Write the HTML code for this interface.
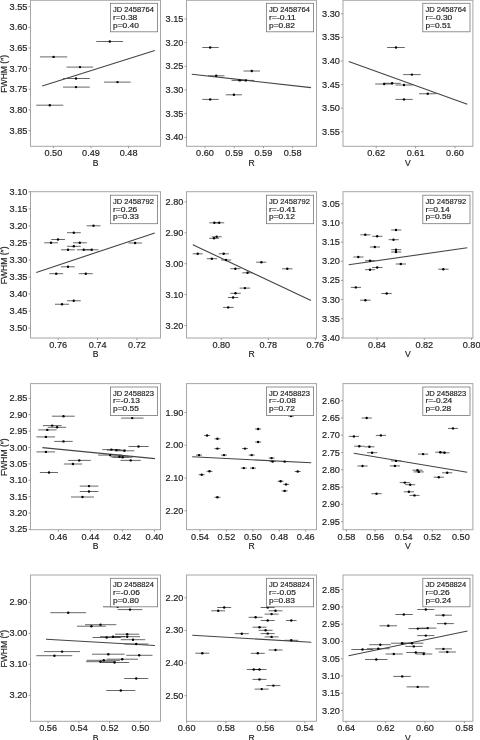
<!DOCTYPE html><html><head><meta charset="utf-8"><style>html,body{margin:0;padding:0;background:#fff;}svg{display:block;}</style></head><body>
<svg style="will-change:transform" width="480" height="740" viewBox="0 0 480 740" font-family="Liberation Sans, sans-serif">
<rect width="480" height="740" fill="#fff"/>
<g clip-path="url(#c00)"><line x1="96.25" y1="41.50" x2="123.10" y2="41.50" stroke="#000" stroke-width="0.6"/><line x1="39.90" y1="56.90" x2="67.20" y2="56.90" stroke="#000" stroke-width="0.6"/><line x1="66.50" y1="67.10" x2="93.10" y2="67.10" stroke="#000" stroke-width="0.6"/><line x1="63.00" y1="78.50" x2="89.80" y2="78.50" stroke="#000" stroke-width="0.6"/><line x1="63.00" y1="87.10" x2="89.80" y2="87.10" stroke="#000" stroke-width="0.6"/><line x1="104.00" y1="82.10" x2="130.70" y2="82.10" stroke="#000" stroke-width="0.6"/><line x1="36.25" y1="105.20" x2="63.30" y2="105.20" stroke="#000" stroke-width="0.6"/><line x1="42.2" y1="86.1" x2="154.8" y2="50.5" stroke="#444" stroke-width="1.1"/><circle cx="109.80" cy="41.50" r="1.2" fill="#000"/><circle cx="53.60" cy="56.90" r="1.2" fill="#000"/><circle cx="80.00" cy="67.10" r="1.2" fill="#000"/><circle cx="76.00" cy="78.50" r="1.2" fill="#000"/><circle cx="76.00" cy="87.10" r="1.2" fill="#000"/><circle cx="117.50" cy="82.10" r="1.2" fill="#000"/><circle cx="49.80" cy="105.20" r="1.2" fill="#000"/></g>
<clipPath id="c00"><rect x="30.5" y="0.3" width="130.0" height="146.0"/></clipPath>
<rect x="110.40" y="3.30" width="47.2" height="28.5" fill="#fff" stroke="#777" stroke-width="0.8"/>
<text x="113.00" y="11.90" font-size="7.8" textLength="40.86" lengthAdjust="spacingAndGlyphs" fill="#222" stroke="#222" stroke-width="0.18">JD 2458764</text>
<text x="113.00" y="19.70" font-size="7.8" textLength="24.33" lengthAdjust="spacingAndGlyphs" fill="#222" stroke="#222" stroke-width="0.18">r=0.38</text>
<text x="113.00" y="27.50" font-size="7.8" textLength="25.89" lengthAdjust="spacingAndGlyphs" fill="#222" stroke="#222" stroke-width="0.18">p=0.40</text>
<rect x="30.5" y="0.3" width="130.00" height="146.00" fill="none" stroke="#a6a6a6" stroke-width="1"/>
<line x1="28.5" y1="6.70" x2="30.5" y2="6.70" stroke="#888" stroke-width="0.8"/>
<text x="27.40" y="9.75" font-size="9.1" text-anchor="end" textLength="17.81" lengthAdjust="spacingAndGlyphs" fill="#222" stroke="#222" stroke-width="0.18">3.55</text>
<line x1="28.5" y1="27.35" x2="30.5" y2="27.35" stroke="#888" stroke-width="0.8"/>
<text x="27.40" y="30.40" font-size="9.1" text-anchor="end" textLength="17.81" lengthAdjust="spacingAndGlyphs" fill="#222" stroke="#222" stroke-width="0.18">3.60</text>
<line x1="28.5" y1="48.00" x2="30.5" y2="48.00" stroke="#888" stroke-width="0.8"/>
<text x="27.40" y="51.05" font-size="9.1" text-anchor="end" textLength="17.81" lengthAdjust="spacingAndGlyphs" fill="#222" stroke="#222" stroke-width="0.18">3.65</text>
<line x1="28.5" y1="68.65" x2="30.5" y2="68.65" stroke="#888" stroke-width="0.8"/>
<text x="27.40" y="71.70" font-size="9.1" text-anchor="end" textLength="17.81" lengthAdjust="spacingAndGlyphs" fill="#222" stroke="#222" stroke-width="0.18">3.70</text>
<line x1="28.5" y1="89.30" x2="30.5" y2="89.30" stroke="#888" stroke-width="0.8"/>
<text x="27.40" y="92.35" font-size="9.1" text-anchor="end" textLength="17.81" lengthAdjust="spacingAndGlyphs" fill="#222" stroke="#222" stroke-width="0.18">3.75</text>
<line x1="28.5" y1="109.95" x2="30.5" y2="109.95" stroke="#888" stroke-width="0.8"/>
<text x="27.40" y="113.00" font-size="9.1" text-anchor="end" textLength="17.81" lengthAdjust="spacingAndGlyphs" fill="#222" stroke="#222" stroke-width="0.18">3.80</text>
<line x1="28.5" y1="130.60" x2="30.5" y2="130.60" stroke="#888" stroke-width="0.8"/>
<text x="27.40" y="133.65" font-size="9.1" text-anchor="end" textLength="17.81" lengthAdjust="spacingAndGlyphs" fill="#222" stroke="#222" stroke-width="0.18">3.85</text>
<line x1="53.40" y1="146.3" x2="53.40" y2="148.3" stroke="#888" stroke-width="0.8"/>
<text x="53.40" y="156.30" font-size="9.1" text-anchor="middle" textLength="17.81" lengthAdjust="spacingAndGlyphs" fill="#222" stroke="#222" stroke-width="0.18">0.50</text>
<line x1="91.00" y1="146.3" x2="91.00" y2="148.3" stroke="#888" stroke-width="0.8"/>
<text x="91.00" y="156.30" font-size="9.1" text-anchor="middle" textLength="17.81" lengthAdjust="spacingAndGlyphs" fill="#222" stroke="#222" stroke-width="0.18">0.49</text>
<line x1="128.60" y1="146.3" x2="128.60" y2="148.3" stroke="#888" stroke-width="0.8"/>
<text x="128.60" y="156.30" font-size="9.1" text-anchor="middle" textLength="17.81" lengthAdjust="spacingAndGlyphs" fill="#222" stroke="#222" stroke-width="0.18">0.48</text>
<text x="95.50" y="165.50" font-size="8.6" text-anchor="middle" fill="#222" stroke="#222" stroke-width="0.18">B</text>
<text transform="translate(7.2,73.80) rotate(-90)" x="0" y="0" font-size="8.6" text-anchor="middle" textLength="37.67" lengthAdjust="spacingAndGlyphs" fill="#222" stroke="#222" stroke-width="0.18">FWHM (″)</text>
<g clip-path="url(#c01)"><line x1="202.25" y1="47.50" x2="218.70" y2="47.50" stroke="#000" stroke-width="0.6"/><line x1="207.90" y1="75.80" x2="224.50" y2="75.80" stroke="#000" stroke-width="0.6"/><line x1="231.60" y1="80.40" x2="247.90" y2="80.40" stroke="#000" stroke-width="0.6"/><line x1="237.80" y1="80.40" x2="253.90" y2="80.40" stroke="#000" stroke-width="0.6"/><line x1="243.50" y1="71.00" x2="260.00" y2="71.00" stroke="#000" stroke-width="0.6"/><line x1="225.70" y1="94.80" x2="242.10" y2="94.80" stroke="#000" stroke-width="0.6"/><line x1="202.25" y1="99.40" x2="218.70" y2="99.40" stroke="#000" stroke-width="0.6"/><line x1="191.8" y1="74.2" x2="311" y2="87.6" stroke="#444" stroke-width="1.1"/><circle cx="210.20" cy="47.50" r="1.2" fill="#000"/><circle cx="216.20" cy="75.80" r="1.2" fill="#000"/><circle cx="239.75" cy="80.40" r="1.2" fill="#000"/><circle cx="245.80" cy="80.40" r="1.2" fill="#000"/><circle cx="251.80" cy="71.00" r="1.2" fill="#000"/><circle cx="233.90" cy="94.80" r="1.2" fill="#000"/><circle cx="210.20" cy="99.40" r="1.2" fill="#000"/></g>
<clipPath id="c01"><rect x="186.5" y="0.3" width="130.0" height="146.0"/></clipPath>
<rect x="266.40" y="3.30" width="47.2" height="28.5" fill="#fff" stroke="#777" stroke-width="0.8"/>
<text x="269.00" y="11.90" font-size="7.8" textLength="40.86" lengthAdjust="spacingAndGlyphs" fill="#222" stroke="#222" stroke-width="0.18">JD 2458764</text>
<text x="269.00" y="19.70" font-size="7.8" textLength="26.86" lengthAdjust="spacingAndGlyphs" fill="#222" stroke="#222" stroke-width="0.18">r=-0.11</text>
<text x="269.00" y="27.50" font-size="7.8" textLength="25.89" lengthAdjust="spacingAndGlyphs" fill="#222" stroke="#222" stroke-width="0.18">p=0.82</text>
<rect x="186.5" y="0.3" width="130.00" height="146.00" fill="none" stroke="#a6a6a6" stroke-width="1"/>
<line x1="184.5" y1="18.90" x2="186.5" y2="18.90" stroke="#888" stroke-width="0.8"/>
<text x="183.40" y="21.95" font-size="9.1" text-anchor="end" textLength="17.81" lengthAdjust="spacingAndGlyphs" fill="#222" stroke="#222" stroke-width="0.18">3.15</text>
<line x1="184.5" y1="42.60" x2="186.5" y2="42.60" stroke="#888" stroke-width="0.8"/>
<text x="183.40" y="45.65" font-size="9.1" text-anchor="end" textLength="17.81" lengthAdjust="spacingAndGlyphs" fill="#222" stroke="#222" stroke-width="0.18">3.20</text>
<line x1="184.5" y1="66.30" x2="186.5" y2="66.30" stroke="#888" stroke-width="0.8"/>
<text x="183.40" y="69.35" font-size="9.1" text-anchor="end" textLength="17.81" lengthAdjust="spacingAndGlyphs" fill="#222" stroke="#222" stroke-width="0.18">3.25</text>
<line x1="184.5" y1="90.00" x2="186.5" y2="90.00" stroke="#888" stroke-width="0.8"/>
<text x="183.40" y="93.05" font-size="9.1" text-anchor="end" textLength="17.81" lengthAdjust="spacingAndGlyphs" fill="#222" stroke="#222" stroke-width="0.18">3.30</text>
<line x1="184.5" y1="113.70" x2="186.5" y2="113.70" stroke="#888" stroke-width="0.8"/>
<text x="183.40" y="116.75" font-size="9.1" text-anchor="end" textLength="17.81" lengthAdjust="spacingAndGlyphs" fill="#222" stroke="#222" stroke-width="0.18">3.35</text>
<line x1="184.5" y1="137.40" x2="186.5" y2="137.40" stroke="#888" stroke-width="0.8"/>
<text x="183.40" y="140.45" font-size="9.1" text-anchor="end" textLength="17.81" lengthAdjust="spacingAndGlyphs" fill="#222" stroke="#222" stroke-width="0.18">3.40</text>
<line x1="205.00" y1="146.3" x2="205.00" y2="148.3" stroke="#888" stroke-width="0.8"/>
<text x="205.00" y="156.30" font-size="9.1" text-anchor="middle" textLength="17.81" lengthAdjust="spacingAndGlyphs" fill="#222" stroke="#222" stroke-width="0.18">0.60</text>
<line x1="234.20" y1="146.3" x2="234.20" y2="148.3" stroke="#888" stroke-width="0.8"/>
<text x="234.20" y="156.30" font-size="9.1" text-anchor="middle" textLength="17.81" lengthAdjust="spacingAndGlyphs" fill="#222" stroke="#222" stroke-width="0.18">0.59</text>
<line x1="263.40" y1="146.3" x2="263.40" y2="148.3" stroke="#888" stroke-width="0.8"/>
<text x="263.40" y="156.30" font-size="9.1" text-anchor="middle" textLength="17.81" lengthAdjust="spacingAndGlyphs" fill="#222" stroke="#222" stroke-width="0.18">0.59</text>
<line x1="292.60" y1="146.3" x2="292.60" y2="148.3" stroke="#888" stroke-width="0.8"/>
<text x="292.60" y="156.30" font-size="9.1" text-anchor="middle" textLength="17.81" lengthAdjust="spacingAndGlyphs" fill="#222" stroke="#222" stroke-width="0.18">0.58</text>
<text x="251.50" y="165.50" font-size="8.6" text-anchor="middle" fill="#222" stroke="#222" stroke-width="0.18">R</text>
<g clip-path="url(#c02)"><line x1="387.10" y1="47.50" x2="404.80" y2="47.50" stroke="#000" stroke-width="0.6"/><line x1="403.10" y1="74.60" x2="420.60" y2="74.60" stroke="#000" stroke-width="0.6"/><line x1="375.20" y1="84.00" x2="392.90" y2="84.00" stroke="#000" stroke-width="0.6"/><line x1="383.30" y1="83.30" x2="400.80" y2="83.30" stroke="#000" stroke-width="0.6"/><line x1="395.40" y1="85.00" x2="412.70" y2="85.00" stroke="#000" stroke-width="0.6"/><line x1="419.00" y1="93.75" x2="436.25" y2="93.75" stroke="#000" stroke-width="0.6"/><line x1="395.40" y1="99.40" x2="412.70" y2="99.40" stroke="#000" stroke-width="0.6"/><line x1="348.7" y1="61.5" x2="467.3" y2="104.3" stroke="#444" stroke-width="1.1"/><circle cx="396.00" cy="47.50" r="1.2" fill="#000"/><circle cx="411.90" cy="74.60" r="1.2" fill="#000"/><circle cx="384.20" cy="84.00" r="1.2" fill="#000"/><circle cx="392.10" cy="83.30" r="1.2" fill="#000"/><circle cx="404.00" cy="85.00" r="1.2" fill="#000"/><circle cx="427.70" cy="93.75" r="1.2" fill="#000"/><circle cx="404.00" cy="99.40" r="1.2" fill="#000"/></g>
<clipPath id="c02"><rect x="343.0" y="0.3" width="129.89999999999998" height="146.0"/></clipPath>
<rect x="422.80" y="3.30" width="47.2" height="28.5" fill="#fff" stroke="#777" stroke-width="0.8"/>
<text x="425.40" y="11.90" font-size="7.8" textLength="40.86" lengthAdjust="spacingAndGlyphs" fill="#222" stroke="#222" stroke-width="0.18">JD 2458764</text>
<text x="425.40" y="19.70" font-size="7.8" textLength="26.86" lengthAdjust="spacingAndGlyphs" fill="#222" stroke="#222" stroke-width="0.18">r=-0.30</text>
<text x="425.40" y="27.50" font-size="7.8" textLength="25.89" lengthAdjust="spacingAndGlyphs" fill="#222" stroke="#222" stroke-width="0.18">p=0.51</text>
<rect x="343.0" y="0.3" width="129.90" height="146.00" fill="none" stroke="#a6a6a6" stroke-width="1"/>
<line x1="341.0" y1="13.80" x2="343.0" y2="13.80" stroke="#888" stroke-width="0.8"/>
<text x="339.90" y="16.85" font-size="9.1" text-anchor="end" textLength="17.81" lengthAdjust="spacingAndGlyphs" fill="#222" stroke="#222" stroke-width="0.18">3.30</text>
<line x1="341.0" y1="37.40" x2="343.0" y2="37.40" stroke="#888" stroke-width="0.8"/>
<text x="339.90" y="40.45" font-size="9.1" text-anchor="end" textLength="17.81" lengthAdjust="spacingAndGlyphs" fill="#222" stroke="#222" stroke-width="0.18">3.35</text>
<line x1="341.0" y1="61.00" x2="343.0" y2="61.00" stroke="#888" stroke-width="0.8"/>
<text x="339.90" y="64.05" font-size="9.1" text-anchor="end" textLength="17.81" lengthAdjust="spacingAndGlyphs" fill="#222" stroke="#222" stroke-width="0.18">3.40</text>
<line x1="341.0" y1="84.60" x2="343.0" y2="84.60" stroke="#888" stroke-width="0.8"/>
<text x="339.90" y="87.65" font-size="9.1" text-anchor="end" textLength="17.81" lengthAdjust="spacingAndGlyphs" fill="#222" stroke="#222" stroke-width="0.18">3.45</text>
<line x1="341.0" y1="108.20" x2="343.0" y2="108.20" stroke="#888" stroke-width="0.8"/>
<text x="339.90" y="111.25" font-size="9.1" text-anchor="end" textLength="17.81" lengthAdjust="spacingAndGlyphs" fill="#222" stroke="#222" stroke-width="0.18">3.50</text>
<line x1="341.0" y1="131.80" x2="343.0" y2="131.80" stroke="#888" stroke-width="0.8"/>
<text x="339.90" y="134.85" font-size="9.1" text-anchor="end" textLength="17.81" lengthAdjust="spacingAndGlyphs" fill="#222" stroke="#222" stroke-width="0.18">3.55</text>
<line x1="376.20" y1="146.3" x2="376.20" y2="148.3" stroke="#888" stroke-width="0.8"/>
<text x="376.20" y="156.30" font-size="9.1" text-anchor="middle" textLength="17.81" lengthAdjust="spacingAndGlyphs" fill="#222" stroke="#222" stroke-width="0.18">0.62</text>
<line x1="415.60" y1="146.3" x2="415.60" y2="148.3" stroke="#888" stroke-width="0.8"/>
<text x="415.60" y="156.30" font-size="9.1" text-anchor="middle" textLength="17.81" lengthAdjust="spacingAndGlyphs" fill="#222" stroke="#222" stroke-width="0.18">0.61</text>
<line x1="455.00" y1="146.3" x2="455.00" y2="148.3" stroke="#888" stroke-width="0.8"/>
<text x="455.00" y="156.30" font-size="9.1" text-anchor="middle" textLength="17.81" lengthAdjust="spacingAndGlyphs" fill="#222" stroke="#222" stroke-width="0.18">0.60</text>
<text x="407.95" y="165.50" font-size="8.6" text-anchor="middle" fill="#222" stroke="#222" stroke-width="0.18">V</text>
<g clip-path="url(#c10)"><line x1="86.70" y1="225.80" x2="100.50" y2="225.80" stroke="#000" stroke-width="0.6"/><line x1="67.00" y1="232.70" x2="80.80" y2="232.70" stroke="#000" stroke-width="0.6"/><line x1="51.20" y1="239.50" x2="65.00" y2="239.50" stroke="#000" stroke-width="0.6"/><line x1="44.20" y1="242.80" x2="58.00" y2="242.80" stroke="#000" stroke-width="0.6"/><line x1="73.00" y1="242.80" x2="86.80" y2="242.80" stroke="#000" stroke-width="0.6"/><line x1="67.00" y1="246.30" x2="80.80" y2="246.30" stroke="#000" stroke-width="0.6"/><line x1="61.00" y1="249.80" x2="74.80" y2="249.80" stroke="#000" stroke-width="0.6"/><line x1="76.80" y1="249.80" x2="90.50" y2="249.80" stroke="#000" stroke-width="0.6"/><line x1="84.80" y1="249.80" x2="98.50" y2="249.80" stroke="#000" stroke-width="0.6"/><line x1="61.00" y1="266.80" x2="74.80" y2="266.80" stroke="#000" stroke-width="0.6"/><line x1="49.20" y1="273.70" x2="63.20" y2="273.70" stroke="#000" stroke-width="0.6"/><line x1="78.80" y1="273.70" x2="92.80" y2="273.70" stroke="#000" stroke-width="0.6"/><line x1="67.00" y1="300.75" x2="80.75" y2="300.75" stroke="#000" stroke-width="0.6"/><line x1="55.00" y1="304.25" x2="69.00" y2="304.25" stroke="#000" stroke-width="0.6"/><line x1="128.50" y1="243.00" x2="141.90" y2="243.00" stroke="#000" stroke-width="0.6"/><line x1="36.3" y1="272.4" x2="154.75" y2="233" stroke="#444" stroke-width="1.1"/><circle cx="93.50" cy="225.80" r="1.2" fill="#000"/><circle cx="73.80" cy="232.70" r="1.2" fill="#000"/><circle cx="58.00" cy="239.50" r="1.2" fill="#000"/><circle cx="51.00" cy="242.80" r="1.2" fill="#000"/><circle cx="79.80" cy="242.80" r="1.2" fill="#000"/><circle cx="73.80" cy="246.30" r="1.2" fill="#000"/><circle cx="68.00" cy="249.80" r="1.2" fill="#000"/><circle cx="83.70" cy="249.80" r="1.2" fill="#000"/><circle cx="91.70" cy="249.80" r="1.2" fill="#000"/><circle cx="68.00" cy="266.80" r="1.2" fill="#000"/><circle cx="56.20" cy="273.70" r="1.2" fill="#000"/><circle cx="85.80" cy="273.70" r="1.2" fill="#000"/><circle cx="73.75" cy="300.75" r="1.2" fill="#000"/><circle cx="62.00" cy="304.25" r="1.2" fill="#000"/><circle cx="135.10" cy="243.00" r="1.2" fill="#000"/></g>
<clipPath id="c10"><rect x="30.5" y="191.7" width="130.0" height="146.3"/></clipPath>
<rect x="110.40" y="195.20" width="47.2" height="28.5" fill="#fff" stroke="#777" stroke-width="0.8"/>
<text x="113.00" y="203.80" font-size="7.8" textLength="40.86" lengthAdjust="spacingAndGlyphs" fill="#222" stroke="#222" stroke-width="0.18">JD 2458792</text>
<text x="113.00" y="211.60" font-size="7.8" textLength="24.33" lengthAdjust="spacingAndGlyphs" fill="#222" stroke="#222" stroke-width="0.18">r=0.26</text>
<text x="113.00" y="219.40" font-size="7.8" textLength="25.89" lengthAdjust="spacingAndGlyphs" fill="#222" stroke="#222" stroke-width="0.18">p=0.33</text>
<rect x="30.5" y="191.7" width="130.00" height="146.30" fill="none" stroke="#a6a6a6" stroke-width="1"/>
<line x1="28.5" y1="191.80" x2="30.5" y2="191.80" stroke="#888" stroke-width="0.8"/>
<text x="27.40" y="194.85" font-size="9.1" text-anchor="end" textLength="17.81" lengthAdjust="spacingAndGlyphs" fill="#222" stroke="#222" stroke-width="0.18">3.10</text>
<line x1="28.5" y1="208.84" x2="30.5" y2="208.84" stroke="#888" stroke-width="0.8"/>
<text x="27.40" y="211.89" font-size="9.1" text-anchor="end" textLength="17.81" lengthAdjust="spacingAndGlyphs" fill="#222" stroke="#222" stroke-width="0.18">3.15</text>
<line x1="28.5" y1="225.88" x2="30.5" y2="225.88" stroke="#888" stroke-width="0.8"/>
<text x="27.40" y="228.93" font-size="9.1" text-anchor="end" textLength="17.81" lengthAdjust="spacingAndGlyphs" fill="#222" stroke="#222" stroke-width="0.18">3.20</text>
<line x1="28.5" y1="242.92" x2="30.5" y2="242.92" stroke="#888" stroke-width="0.8"/>
<text x="27.40" y="245.97" font-size="9.1" text-anchor="end" textLength="17.81" lengthAdjust="spacingAndGlyphs" fill="#222" stroke="#222" stroke-width="0.18">3.25</text>
<line x1="28.5" y1="259.96" x2="30.5" y2="259.96" stroke="#888" stroke-width="0.8"/>
<text x="27.40" y="263.01" font-size="9.1" text-anchor="end" textLength="17.81" lengthAdjust="spacingAndGlyphs" fill="#222" stroke="#222" stroke-width="0.18">3.30</text>
<line x1="28.5" y1="277.00" x2="30.5" y2="277.00" stroke="#888" stroke-width="0.8"/>
<text x="27.40" y="280.05" font-size="9.1" text-anchor="end" textLength="17.81" lengthAdjust="spacingAndGlyphs" fill="#222" stroke="#222" stroke-width="0.18">3.35</text>
<line x1="28.5" y1="294.04" x2="30.5" y2="294.04" stroke="#888" stroke-width="0.8"/>
<text x="27.40" y="297.09" font-size="9.1" text-anchor="end" textLength="17.81" lengthAdjust="spacingAndGlyphs" fill="#222" stroke="#222" stroke-width="0.18">3.40</text>
<line x1="28.5" y1="311.08" x2="30.5" y2="311.08" stroke="#888" stroke-width="0.8"/>
<text x="27.40" y="314.13" font-size="9.1" text-anchor="end" textLength="17.81" lengthAdjust="spacingAndGlyphs" fill="#222" stroke="#222" stroke-width="0.18">3.45</text>
<line x1="28.5" y1="328.12" x2="30.5" y2="328.12" stroke="#888" stroke-width="0.8"/>
<text x="27.40" y="331.17" font-size="9.1" text-anchor="end" textLength="17.81" lengthAdjust="spacingAndGlyphs" fill="#222" stroke="#222" stroke-width="0.18">3.50</text>
<line x1="58.20" y1="338.0" x2="58.20" y2="340.0" stroke="#888" stroke-width="0.8"/>
<text x="58.20" y="348.00" font-size="9.1" text-anchor="middle" textLength="17.81" lengthAdjust="spacingAndGlyphs" fill="#222" stroke="#222" stroke-width="0.18">0.76</text>
<line x1="97.60" y1="338.0" x2="97.60" y2="340.0" stroke="#888" stroke-width="0.8"/>
<text x="97.60" y="348.00" font-size="9.1" text-anchor="middle" textLength="17.81" lengthAdjust="spacingAndGlyphs" fill="#222" stroke="#222" stroke-width="0.18">0.74</text>
<line x1="137.00" y1="338.0" x2="137.00" y2="340.0" stroke="#888" stroke-width="0.8"/>
<text x="137.00" y="348.00" font-size="9.1" text-anchor="middle" textLength="17.81" lengthAdjust="spacingAndGlyphs" fill="#222" stroke="#222" stroke-width="0.18">0.72</text>
<text x="95.50" y="357.20" font-size="8.6" text-anchor="middle" fill="#222" stroke="#222" stroke-width="0.18">B</text>
<text transform="translate(7.2,265.35) rotate(-90)" x="0" y="0" font-size="8.6" text-anchor="middle" textLength="37.67" lengthAdjust="spacingAndGlyphs" fill="#222" stroke="#222" stroke-width="0.18">FWHM (″)</text>
<g clip-path="url(#c11)"><line x1="209.30" y1="222.80" x2="219.20" y2="222.80" stroke="#000" stroke-width="0.6"/><line x1="214.30" y1="222.80" x2="224.20" y2="222.80" stroke="#000" stroke-width="0.6"/><line x1="211.80" y1="236.80" x2="221.70" y2="236.80" stroke="#000" stroke-width="0.6"/><line x1="209.20" y1="238.30" x2="219.00" y2="238.30" stroke="#000" stroke-width="0.6"/><line x1="192.70" y1="253.80" x2="202.80" y2="253.80" stroke="#000" stroke-width="0.6"/><line x1="218.70" y1="253.80" x2="228.80" y2="253.80" stroke="#000" stroke-width="0.6"/><line x1="206.80" y1="258.70" x2="217.00" y2="258.70" stroke="#000" stroke-width="0.6"/><line x1="221.00" y1="260.00" x2="231.20" y2="260.00" stroke="#000" stroke-width="0.6"/><line x1="230.30" y1="268.70" x2="240.50" y2="268.70" stroke="#000" stroke-width="0.6"/><line x1="242.30" y1="272.80" x2="252.70" y2="272.80" stroke="#000" stroke-width="0.6"/><line x1="256.20" y1="262.20" x2="266.30" y2="262.20" stroke="#000" stroke-width="0.6"/><line x1="282.20" y1="268.80" x2="292.50" y2="268.80" stroke="#000" stroke-width="0.6"/><line x1="239.60" y1="288.10" x2="250.10" y2="288.10" stroke="#000" stroke-width="0.6"/><line x1="230.30" y1="293.30" x2="240.80" y2="293.30" stroke="#000" stroke-width="0.6"/><line x1="228.00" y1="297.50" x2="238.30" y2="297.50" stroke="#000" stroke-width="0.6"/><line x1="223.10" y1="307.40" x2="233.60" y2="307.40" stroke="#000" stroke-width="0.6"/><line x1="192.8" y1="244.7" x2="311" y2="300.6" stroke="#444" stroke-width="1.1"/><circle cx="214.30" cy="222.80" r="1.2" fill="#000"/><circle cx="219.20" cy="222.80" r="1.2" fill="#000"/><circle cx="216.70" cy="236.80" r="1.2" fill="#000"/><circle cx="214.00" cy="238.30" r="1.2" fill="#000"/><circle cx="197.70" cy="253.80" r="1.2" fill="#000"/><circle cx="223.70" cy="253.80" r="1.2" fill="#000"/><circle cx="211.80" cy="258.70" r="1.2" fill="#000"/><circle cx="226.00" cy="260.00" r="1.2" fill="#000"/><circle cx="235.40" cy="268.70" r="1.2" fill="#000"/><circle cx="247.50" cy="272.80" r="1.2" fill="#000"/><circle cx="261.40" cy="262.20" r="1.2" fill="#000"/><circle cx="287.30" cy="268.80" r="1.2" fill="#000"/><circle cx="244.90" cy="288.10" r="1.2" fill="#000"/><circle cx="235.50" cy="293.30" r="1.2" fill="#000"/><circle cx="233.10" cy="297.50" r="1.2" fill="#000"/><circle cx="228.20" cy="307.40" r="1.2" fill="#000"/></g>
<clipPath id="c11"><rect x="186.5" y="191.7" width="130.0" height="146.3"/></clipPath>
<rect x="266.40" y="195.20" width="47.2" height="28.5" fill="#fff" stroke="#777" stroke-width="0.8"/>
<text x="269.00" y="203.80" font-size="7.8" textLength="40.86" lengthAdjust="spacingAndGlyphs" fill="#222" stroke="#222" stroke-width="0.18">JD 2458792</text>
<text x="269.00" y="211.60" font-size="7.8" textLength="26.86" lengthAdjust="spacingAndGlyphs" fill="#222" stroke="#222" stroke-width="0.18">r=-0.41</text>
<text x="269.00" y="219.40" font-size="7.8" textLength="25.89" lengthAdjust="spacingAndGlyphs" fill="#222" stroke="#222" stroke-width="0.18">p=0.12</text>
<rect x="186.5" y="191.7" width="130.00" height="146.30" fill="none" stroke="#a6a6a6" stroke-width="1"/>
<line x1="184.5" y1="201.80" x2="186.5" y2="201.80" stroke="#888" stroke-width="0.8"/>
<text x="183.40" y="204.85" font-size="9.1" text-anchor="end" textLength="17.81" lengthAdjust="spacingAndGlyphs" fill="#222" stroke="#222" stroke-width="0.18">2.80</text>
<line x1="184.5" y1="232.73" x2="186.5" y2="232.73" stroke="#888" stroke-width="0.8"/>
<text x="183.40" y="235.78" font-size="9.1" text-anchor="end" textLength="17.81" lengthAdjust="spacingAndGlyphs" fill="#222" stroke="#222" stroke-width="0.18">2.90</text>
<line x1="184.5" y1="263.66" x2="186.5" y2="263.66" stroke="#888" stroke-width="0.8"/>
<text x="183.40" y="266.71" font-size="9.1" text-anchor="end" textLength="17.81" lengthAdjust="spacingAndGlyphs" fill="#222" stroke="#222" stroke-width="0.18">3.00</text>
<line x1="184.5" y1="294.59" x2="186.5" y2="294.59" stroke="#888" stroke-width="0.8"/>
<text x="183.40" y="297.64" font-size="9.1" text-anchor="end" textLength="17.81" lengthAdjust="spacingAndGlyphs" fill="#222" stroke="#222" stroke-width="0.18">3.10</text>
<line x1="184.5" y1="325.52" x2="186.5" y2="325.52" stroke="#888" stroke-width="0.8"/>
<text x="183.40" y="328.57" font-size="9.1" text-anchor="end" textLength="17.81" lengthAdjust="spacingAndGlyphs" fill="#222" stroke="#222" stroke-width="0.18">3.20</text>
<line x1="221.30" y1="338.0" x2="221.30" y2="340.0" stroke="#888" stroke-width="0.8"/>
<text x="221.30" y="348.00" font-size="9.1" text-anchor="middle" textLength="17.81" lengthAdjust="spacingAndGlyphs" fill="#222" stroke="#222" stroke-width="0.18">0.80</text>
<line x1="268.30" y1="338.0" x2="268.30" y2="340.0" stroke="#888" stroke-width="0.8"/>
<text x="268.30" y="348.00" font-size="9.1" text-anchor="middle" textLength="17.81" lengthAdjust="spacingAndGlyphs" fill="#222" stroke="#222" stroke-width="0.18">0.78</text>
<line x1="315.30" y1="338.0" x2="315.30" y2="340.0" stroke="#888" stroke-width="0.8"/>
<text x="315.30" y="348.00" font-size="9.1" text-anchor="middle" textLength="17.81" lengthAdjust="spacingAndGlyphs" fill="#222" stroke="#222" stroke-width="0.18">0.76</text>
<text x="251.50" y="357.20" font-size="8.6" text-anchor="middle" fill="#222" stroke="#222" stroke-width="0.18">R</text>
<g clip-path="url(#c12)"><line x1="391.20" y1="230.00" x2="401.30" y2="230.00" stroke="#000" stroke-width="0.6"/><line x1="360.30" y1="234.80" x2="370.50" y2="234.80" stroke="#000" stroke-width="0.6"/><line x1="372.20" y1="236.30" x2="382.50" y2="236.30" stroke="#000" stroke-width="0.6"/><line x1="388.70" y1="239.70" x2="398.80" y2="239.70" stroke="#000" stroke-width="0.6"/><line x1="369.80" y1="247.00" x2="380.00" y2="247.00" stroke="#000" stroke-width="0.6"/><line x1="391.20" y1="249.70" x2="401.30" y2="249.70" stroke="#000" stroke-width="0.6"/><line x1="391.20" y1="252.00" x2="401.30" y2="252.00" stroke="#000" stroke-width="0.6"/><line x1="353.30" y1="257.00" x2="363.50" y2="257.00" stroke="#000" stroke-width="0.6"/><line x1="365.00" y1="260.70" x2="375.20" y2="260.70" stroke="#000" stroke-width="0.6"/><line x1="395.80" y1="264.00" x2="406.00" y2="264.00" stroke="#000" stroke-width="0.6"/><line x1="372.20" y1="267.50" x2="382.50" y2="267.50" stroke="#000" stroke-width="0.6"/><line x1="365.00" y1="269.70" x2="375.20" y2="269.70" stroke="#000" stroke-width="0.6"/><line x1="438.30" y1="269.20" x2="448.60" y2="269.20" stroke="#000" stroke-width="0.6"/><line x1="350.80" y1="287.40" x2="361.00" y2="287.40" stroke="#000" stroke-width="0.6"/><line x1="381.40" y1="293.50" x2="391.70" y2="293.50" stroke="#000" stroke-width="0.6"/><line x1="360.10" y1="300.20" x2="370.60" y2="300.20" stroke="#000" stroke-width="0.6"/><line x1="348.7" y1="264.7" x2="467.3" y2="247.8" stroke="#444" stroke-width="1.1"/><circle cx="396.00" cy="230.00" r="1.2" fill="#000"/><circle cx="365.30" cy="234.80" r="1.2" fill="#000"/><circle cx="377.20" cy="236.30" r="1.2" fill="#000"/><circle cx="393.50" cy="239.70" r="1.2" fill="#000"/><circle cx="374.80" cy="247.00" r="1.2" fill="#000"/><circle cx="396.00" cy="249.70" r="1.2" fill="#000"/><circle cx="396.00" cy="252.00" r="1.2" fill="#000"/><circle cx="358.30" cy="257.00" r="1.2" fill="#000"/><circle cx="370.00" cy="260.70" r="1.2" fill="#000"/><circle cx="400.80" cy="264.00" r="1.2" fill="#000"/><circle cx="377.20" cy="267.50" r="1.2" fill="#000"/><circle cx="370.00" cy="269.70" r="1.2" fill="#000"/><circle cx="443.30" cy="269.20" r="1.2" fill="#000"/><circle cx="355.80" cy="287.40" r="1.2" fill="#000"/><circle cx="386.70" cy="293.50" r="1.2" fill="#000"/><circle cx="365.40" cy="300.20" r="1.2" fill="#000"/></g>
<clipPath id="c12"><rect x="343.0" y="191.7" width="129.89999999999998" height="146.3"/></clipPath>
<rect x="422.80" y="195.20" width="47.2" height="28.5" fill="#fff" stroke="#777" stroke-width="0.8"/>
<text x="425.40" y="203.80" font-size="7.8" textLength="40.86" lengthAdjust="spacingAndGlyphs" fill="#222" stroke="#222" stroke-width="0.18">JD 2458792</text>
<text x="425.40" y="211.60" font-size="7.8" textLength="24.33" lengthAdjust="spacingAndGlyphs" fill="#222" stroke="#222" stroke-width="0.18">r=0.14</text>
<text x="425.40" y="219.40" font-size="7.8" textLength="25.89" lengthAdjust="spacingAndGlyphs" fill="#222" stroke="#222" stroke-width="0.18">p=0.59</text>
<rect x="343.0" y="191.7" width="129.90" height="146.30" fill="none" stroke="#a6a6a6" stroke-width="1"/>
<line x1="341.0" y1="203.80" x2="343.0" y2="203.80" stroke="#888" stroke-width="0.8"/>
<text x="339.90" y="206.85" font-size="9.1" text-anchor="end" textLength="17.81" lengthAdjust="spacingAndGlyphs" fill="#222" stroke="#222" stroke-width="0.18">3.05</text>
<line x1="341.0" y1="222.95" x2="343.0" y2="222.95" stroke="#888" stroke-width="0.8"/>
<text x="339.90" y="226.00" font-size="9.1" text-anchor="end" textLength="17.81" lengthAdjust="spacingAndGlyphs" fill="#222" stroke="#222" stroke-width="0.18">3.10</text>
<line x1="341.0" y1="242.10" x2="343.0" y2="242.10" stroke="#888" stroke-width="0.8"/>
<text x="339.90" y="245.15" font-size="9.1" text-anchor="end" textLength="17.81" lengthAdjust="spacingAndGlyphs" fill="#222" stroke="#222" stroke-width="0.18">3.15</text>
<line x1="341.0" y1="261.25" x2="343.0" y2="261.25" stroke="#888" stroke-width="0.8"/>
<text x="339.90" y="264.30" font-size="9.1" text-anchor="end" textLength="17.81" lengthAdjust="spacingAndGlyphs" fill="#222" stroke="#222" stroke-width="0.18">3.20</text>
<line x1="341.0" y1="280.40" x2="343.0" y2="280.40" stroke="#888" stroke-width="0.8"/>
<text x="339.90" y="283.45" font-size="9.1" text-anchor="end" textLength="17.81" lengthAdjust="spacingAndGlyphs" fill="#222" stroke="#222" stroke-width="0.18">3.25</text>
<line x1="341.0" y1="299.55" x2="343.0" y2="299.55" stroke="#888" stroke-width="0.8"/>
<text x="339.90" y="302.60" font-size="9.1" text-anchor="end" textLength="17.81" lengthAdjust="spacingAndGlyphs" fill="#222" stroke="#222" stroke-width="0.18">3.30</text>
<line x1="341.0" y1="318.70" x2="343.0" y2="318.70" stroke="#888" stroke-width="0.8"/>
<text x="339.90" y="321.75" font-size="9.1" text-anchor="end" textLength="17.81" lengthAdjust="spacingAndGlyphs" fill="#222" stroke="#222" stroke-width="0.18">3.35</text>
<line x1="341.0" y1="337.85" x2="343.0" y2="337.85" stroke="#888" stroke-width="0.8"/>
<text x="339.90" y="340.90" font-size="9.1" text-anchor="end" textLength="17.81" lengthAdjust="spacingAndGlyphs" fill="#222" stroke="#222" stroke-width="0.18">3.40</text>
<line x1="377.00" y1="338.0" x2="377.00" y2="340.0" stroke="#888" stroke-width="0.8"/>
<text x="377.00" y="348.00" font-size="9.1" text-anchor="middle" textLength="17.81" lengthAdjust="spacingAndGlyphs" fill="#222" stroke="#222" stroke-width="0.18">0.84</text>
<line x1="424.30" y1="338.0" x2="424.30" y2="340.0" stroke="#888" stroke-width="0.8"/>
<text x="424.30" y="348.00" font-size="9.1" text-anchor="middle" textLength="17.81" lengthAdjust="spacingAndGlyphs" fill="#222" stroke="#222" stroke-width="0.18">0.82</text>
<line x1="471.60" y1="338.0" x2="471.60" y2="340.0" stroke="#888" stroke-width="0.8"/>
<text x="471.60" y="348.00" font-size="9.1" text-anchor="middle" textLength="17.81" lengthAdjust="spacingAndGlyphs" fill="#222" stroke="#222" stroke-width="0.18">0.80</text>
<text x="407.95" y="357.20" font-size="8.6" text-anchor="middle" fill="#222" stroke="#222" stroke-width="0.18">V</text>
<g clip-path="url(#c20)"><line x1="51.90" y1="416.20" x2="74.75" y2="416.20" stroke="#000" stroke-width="0.6"/><line x1="42.80" y1="425.60" x2="61.60" y2="425.60" stroke="#000" stroke-width="0.6"/><line x1="47.80" y1="427.30" x2="66.20" y2="427.30" stroke="#000" stroke-width="0.6"/><line x1="38.20" y1="429.90" x2="56.50" y2="429.90" stroke="#000" stroke-width="0.6"/><line x1="36.40" y1="436.90" x2="55.10" y2="436.90" stroke="#000" stroke-width="0.6"/><line x1="54.20" y1="441.40" x2="72.70" y2="441.40" stroke="#000" stroke-width="0.6"/><line x1="36.40" y1="451.90" x2="55.10" y2="451.90" stroke="#000" stroke-width="0.6"/><line x1="68.20" y1="460.40" x2="90.80" y2="460.40" stroke="#000" stroke-width="0.6"/><line x1="63.80" y1="464.00" x2="82.20" y2="464.00" stroke="#000" stroke-width="0.6"/><line x1="39.90" y1="472.50" x2="58.00" y2="472.50" stroke="#000" stroke-width="0.6"/><line x1="79.75" y1="486.10" x2="98.40" y2="486.10" stroke="#000" stroke-width="0.6"/><line x1="79.75" y1="491.50" x2="98.40" y2="491.50" stroke="#000" stroke-width="0.6"/><line x1="71.00" y1="497.00" x2="94.00" y2="497.00" stroke="#000" stroke-width="0.6"/><line x1="121.10" y1="418.10" x2="143.50" y2="418.10" stroke="#000" stroke-width="0.6"/><line x1="128.50" y1="446.50" x2="148.70" y2="446.50" stroke="#000" stroke-width="0.6"/><line x1="102.30" y1="449.60" x2="120.50" y2="449.60" stroke="#000" stroke-width="0.6"/><line x1="107.00" y1="450.10" x2="126.00" y2="450.10" stroke="#000" stroke-width="0.6"/><line x1="114.80" y1="450.80" x2="134.40" y2="450.80" stroke="#000" stroke-width="0.6"/><line x1="98.10" y1="455.10" x2="122.00" y2="455.10" stroke="#000" stroke-width="0.6"/><line x1="110.20" y1="456.80" x2="129.00" y2="456.80" stroke="#000" stroke-width="0.6"/><line x1="112.50" y1="457.30" x2="132.50" y2="457.30" stroke="#000" stroke-width="0.6"/><line x1="120.50" y1="460.40" x2="140.80" y2="460.40" stroke="#000" stroke-width="0.6"/><line x1="42.4" y1="447.6" x2="155" y2="458.6" stroke="#444" stroke-width="1.1"/><circle cx="63.50" cy="416.20" r="1.2" fill="#000"/><circle cx="52.20" cy="425.60" r="1.2" fill="#000"/><circle cx="57.10" cy="427.30" r="1.2" fill="#000"/><circle cx="47.30" cy="429.90" r="1.2" fill="#000"/><circle cx="45.90" cy="436.90" r="1.2" fill="#000"/><circle cx="63.50" cy="441.40" r="1.2" fill="#000"/><circle cx="45.90" cy="451.90" r="1.2" fill="#000"/><circle cx="79.30" cy="460.40" r="1.2" fill="#000"/><circle cx="72.90" cy="464.00" r="1.2" fill="#000"/><circle cx="49.00" cy="472.50" r="1.2" fill="#000"/><circle cx="89.00" cy="486.10" r="1.2" fill="#000"/><circle cx="89.00" cy="491.50" r="1.2" fill="#000"/><circle cx="82.50" cy="497.00" r="1.2" fill="#000"/><circle cx="132.20" cy="418.10" r="1.2" fill="#000"/><circle cx="138.50" cy="446.50" r="1.2" fill="#000"/><circle cx="111.40" cy="449.60" r="1.2" fill="#000"/><circle cx="116.40" cy="450.10" r="1.2" fill="#000"/><circle cx="124.40" cy="450.80" r="1.2" fill="#000"/><circle cx="110.10" cy="455.10" r="1.2" fill="#000"/><circle cx="119.50" cy="456.80" r="1.2" fill="#000"/><circle cx="122.60" cy="457.30" r="1.2" fill="#000"/><circle cx="130.70" cy="460.40" r="1.2" fill="#000"/></g>
<clipPath id="c20"><rect x="30.5" y="383.6" width="130.0" height="146.10000000000002"/></clipPath>
<rect x="110.40" y="387.00" width="47.2" height="28.5" fill="#fff" stroke="#777" stroke-width="0.8"/>
<text x="113.00" y="395.60" font-size="7.8" textLength="40.86" lengthAdjust="spacingAndGlyphs" fill="#222" stroke="#222" stroke-width="0.18">JD 2458823</text>
<text x="113.00" y="403.40" font-size="7.8" textLength="26.86" lengthAdjust="spacingAndGlyphs" fill="#222" stroke="#222" stroke-width="0.18">r=-0.13</text>
<text x="113.00" y="411.20" font-size="7.8" textLength="25.89" lengthAdjust="spacingAndGlyphs" fill="#222" stroke="#222" stroke-width="0.18">p=0.55</text>
<rect x="30.5" y="383.6" width="130.00" height="146.10" fill="none" stroke="#a6a6a6" stroke-width="1"/>
<line x1="28.5" y1="398.30" x2="30.5" y2="398.30" stroke="#888" stroke-width="0.8"/>
<text x="27.40" y="401.35" font-size="9.1" text-anchor="end" textLength="17.81" lengthAdjust="spacingAndGlyphs" fill="#222" stroke="#222" stroke-width="0.18">2.85</text>
<line x1="28.5" y1="414.69" x2="30.5" y2="414.69" stroke="#888" stroke-width="0.8"/>
<text x="27.40" y="417.74" font-size="9.1" text-anchor="end" textLength="17.81" lengthAdjust="spacingAndGlyphs" fill="#222" stroke="#222" stroke-width="0.18">2.90</text>
<line x1="28.5" y1="431.08" x2="30.5" y2="431.08" stroke="#888" stroke-width="0.8"/>
<text x="27.40" y="434.13" font-size="9.1" text-anchor="end" textLength="17.81" lengthAdjust="spacingAndGlyphs" fill="#222" stroke="#222" stroke-width="0.18">2.95</text>
<line x1="28.5" y1="447.47" x2="30.5" y2="447.47" stroke="#888" stroke-width="0.8"/>
<text x="27.40" y="450.52" font-size="9.1" text-anchor="end" textLength="17.81" lengthAdjust="spacingAndGlyphs" fill="#222" stroke="#222" stroke-width="0.18">3.00</text>
<line x1="28.5" y1="463.86" x2="30.5" y2="463.86" stroke="#888" stroke-width="0.8"/>
<text x="27.40" y="466.91" font-size="9.1" text-anchor="end" textLength="17.81" lengthAdjust="spacingAndGlyphs" fill="#222" stroke="#222" stroke-width="0.18">3.05</text>
<line x1="28.5" y1="480.25" x2="30.5" y2="480.25" stroke="#888" stroke-width="0.8"/>
<text x="27.40" y="483.30" font-size="9.1" text-anchor="end" textLength="17.81" lengthAdjust="spacingAndGlyphs" fill="#222" stroke="#222" stroke-width="0.18">3.10</text>
<line x1="28.5" y1="496.64" x2="30.5" y2="496.64" stroke="#888" stroke-width="0.8"/>
<text x="27.40" y="499.69" font-size="9.1" text-anchor="end" textLength="17.81" lengthAdjust="spacingAndGlyphs" fill="#222" stroke="#222" stroke-width="0.18">3.15</text>
<line x1="28.5" y1="513.03" x2="30.5" y2="513.03" stroke="#888" stroke-width="0.8"/>
<text x="27.40" y="516.08" font-size="9.1" text-anchor="end" textLength="17.81" lengthAdjust="spacingAndGlyphs" fill="#222" stroke="#222" stroke-width="0.18">3.20</text>
<line x1="28.5" y1="529.42" x2="30.5" y2="529.42" stroke="#888" stroke-width="0.8"/>
<text x="27.40" y="532.47" font-size="9.1" text-anchor="end" textLength="17.81" lengthAdjust="spacingAndGlyphs" fill="#222" stroke="#222" stroke-width="0.18">3.25</text>
<line x1="58.40" y1="529.7" x2="58.40" y2="531.7" stroke="#888" stroke-width="0.8"/>
<text x="58.40" y="539.70" font-size="9.1" text-anchor="middle" textLength="17.81" lengthAdjust="spacingAndGlyphs" fill="#222" stroke="#222" stroke-width="0.18">0.46</text>
<line x1="90.40" y1="529.7" x2="90.40" y2="531.7" stroke="#888" stroke-width="0.8"/>
<text x="90.40" y="539.70" font-size="9.1" text-anchor="middle" textLength="17.81" lengthAdjust="spacingAndGlyphs" fill="#222" stroke="#222" stroke-width="0.18">0.44</text>
<line x1="122.40" y1="529.7" x2="122.40" y2="531.7" stroke="#888" stroke-width="0.8"/>
<text x="122.40" y="539.70" font-size="9.1" text-anchor="middle" textLength="17.81" lengthAdjust="spacingAndGlyphs" fill="#222" stroke="#222" stroke-width="0.18">0.42</text>
<line x1="154.50" y1="529.7" x2="154.50" y2="531.7" stroke="#888" stroke-width="0.8"/>
<text x="154.50" y="539.70" font-size="9.1" text-anchor="middle" textLength="17.81" lengthAdjust="spacingAndGlyphs" fill="#222" stroke="#222" stroke-width="0.18">0.40</text>
<text x="95.50" y="548.90" font-size="8.6" text-anchor="middle" fill="#222" stroke="#222" stroke-width="0.18">B</text>
<text transform="translate(7.2,457.15) rotate(-90)" x="0" y="0" font-size="8.6" text-anchor="middle" textLength="37.67" lengthAdjust="spacingAndGlyphs" fill="#222" stroke="#222" stroke-width="0.18">FWHM (″)</text>
<g clip-path="url(#c21)"><line x1="204.10" y1="435.50" x2="210.10" y2="435.50" stroke="#000" stroke-width="0.6"/><line x1="214.40" y1="438.80" x2="220.40" y2="438.80" stroke="#000" stroke-width="0.6"/><line x1="214.40" y1="448.60" x2="220.40" y2="448.60" stroke="#000" stroke-width="0.6"/><line x1="196.00" y1="455.10" x2="202.00" y2="455.10" stroke="#000" stroke-width="0.6"/><line x1="221.00" y1="455.10" x2="227.00" y2="455.10" stroke="#000" stroke-width="0.6"/><line x1="242.00" y1="448.60" x2="248.00" y2="448.60" stroke="#000" stroke-width="0.6"/><line x1="248.70" y1="455.10" x2="254.70" y2="455.10" stroke="#000" stroke-width="0.6"/><line x1="255.10" y1="429.00" x2="261.10" y2="429.00" stroke="#000" stroke-width="0.6"/><line x1="255.10" y1="442.00" x2="261.10" y2="442.00" stroke="#000" stroke-width="0.6"/><line x1="240.80" y1="468.10" x2="246.80" y2="468.10" stroke="#000" stroke-width="0.6"/><line x1="250.00" y1="468.10" x2="256.00" y2="468.10" stroke="#000" stroke-width="0.6"/><line x1="206.50" y1="471.30" x2="212.50" y2="471.30" stroke="#000" stroke-width="0.6"/><line x1="198.70" y1="474.70" x2="204.70" y2="474.70" stroke="#000" stroke-width="0.6"/><line x1="214.40" y1="497.30" x2="220.40" y2="497.30" stroke="#000" stroke-width="0.6"/><line x1="288.10" y1="416.00" x2="294.10" y2="416.00" stroke="#000" stroke-width="0.6"/><line x1="268.60" y1="458.10" x2="274.60" y2="458.10" stroke="#000" stroke-width="0.6"/><line x1="269.60" y1="461.60" x2="275.60" y2="461.60" stroke="#000" stroke-width="0.6"/><line x1="281.70" y1="461.60" x2="287.70" y2="461.60" stroke="#000" stroke-width="0.6"/><line x1="294.70" y1="471.50" x2="300.70" y2="471.50" stroke="#000" stroke-width="0.6"/><line x1="277.60" y1="481.20" x2="283.60" y2="481.20" stroke="#000" stroke-width="0.6"/><line x1="283.10" y1="484.40" x2="289.10" y2="484.40" stroke="#000" stroke-width="0.6"/><line x1="281.70" y1="490.90" x2="287.70" y2="490.90" stroke="#000" stroke-width="0.6"/><line x1="192.2" y1="456.7" x2="311.2" y2="462.8" stroke="#444" stroke-width="1.1"/><circle cx="207.10" cy="435.50" r="1.2" fill="#000"/><circle cx="217.40" cy="438.80" r="1.2" fill="#000"/><circle cx="217.40" cy="448.60" r="1.2" fill="#000"/><circle cx="199.00" cy="455.10" r="1.2" fill="#000"/><circle cx="224.00" cy="455.10" r="1.2" fill="#000"/><circle cx="245.00" cy="448.60" r="1.2" fill="#000"/><circle cx="251.70" cy="455.10" r="1.2" fill="#000"/><circle cx="258.10" cy="429.00" r="1.2" fill="#000"/><circle cx="258.10" cy="442.00" r="1.2" fill="#000"/><circle cx="243.80" cy="468.10" r="1.2" fill="#000"/><circle cx="253.00" cy="468.10" r="1.2" fill="#000"/><circle cx="209.50" cy="471.30" r="1.2" fill="#000"/><circle cx="201.70" cy="474.70" r="1.2" fill="#000"/><circle cx="217.40" cy="497.30" r="1.2" fill="#000"/><circle cx="291.10" cy="416.00" r="1.2" fill="#000"/><circle cx="271.60" cy="458.10" r="1.2" fill="#000"/><circle cx="272.60" cy="461.60" r="1.2" fill="#000"/><circle cx="284.70" cy="461.60" r="1.2" fill="#000"/><circle cx="297.70" cy="471.50" r="1.2" fill="#000"/><circle cx="280.60" cy="481.20" r="1.2" fill="#000"/><circle cx="286.10" cy="484.40" r="1.2" fill="#000"/><circle cx="284.70" cy="490.90" r="1.2" fill="#000"/></g>
<clipPath id="c21"><rect x="186.5" y="383.6" width="130.0" height="146.10000000000002"/></clipPath>
<rect x="266.40" y="387.00" width="47.2" height="28.5" fill="#fff" stroke="#777" stroke-width="0.8"/>
<text x="269.00" y="395.60" font-size="7.8" textLength="40.86" lengthAdjust="spacingAndGlyphs" fill="#222" stroke="#222" stroke-width="0.18">JD 2458823</text>
<text x="269.00" y="403.40" font-size="7.8" textLength="26.86" lengthAdjust="spacingAndGlyphs" fill="#222" stroke="#222" stroke-width="0.18">r=-0.08</text>
<text x="269.00" y="411.20" font-size="7.8" textLength="25.89" lengthAdjust="spacingAndGlyphs" fill="#222" stroke="#222" stroke-width="0.18">p=0.72</text>
<rect x="186.5" y="383.6" width="130.00" height="146.10" fill="none" stroke="#a6a6a6" stroke-width="1"/>
<line x1="184.5" y1="412.50" x2="186.5" y2="412.50" stroke="#888" stroke-width="0.8"/>
<text x="183.40" y="415.55" font-size="9.1" text-anchor="end" textLength="17.81" lengthAdjust="spacingAndGlyphs" fill="#222" stroke="#222" stroke-width="0.18">1.90</text>
<line x1="184.5" y1="445.27" x2="186.5" y2="445.27" stroke="#888" stroke-width="0.8"/>
<text x="183.40" y="448.32" font-size="9.1" text-anchor="end" textLength="17.81" lengthAdjust="spacingAndGlyphs" fill="#222" stroke="#222" stroke-width="0.18">2.00</text>
<line x1="184.5" y1="478.04" x2="186.5" y2="478.04" stroke="#888" stroke-width="0.8"/>
<text x="183.40" y="481.09" font-size="9.1" text-anchor="end" textLength="17.81" lengthAdjust="spacingAndGlyphs" fill="#222" stroke="#222" stroke-width="0.18">2.10</text>
<line x1="184.5" y1="510.81" x2="186.5" y2="510.81" stroke="#888" stroke-width="0.8"/>
<text x="183.40" y="513.86" font-size="9.1" text-anchor="end" textLength="17.81" lengthAdjust="spacingAndGlyphs" fill="#222" stroke="#222" stroke-width="0.18">2.20</text>
<line x1="200.00" y1="529.7" x2="200.00" y2="531.7" stroke="#888" stroke-width="0.8"/>
<text x="200.00" y="539.70" font-size="9.1" text-anchor="middle" textLength="17.81" lengthAdjust="spacingAndGlyphs" fill="#222" stroke="#222" stroke-width="0.18">0.54</text>
<line x1="226.40" y1="529.7" x2="226.40" y2="531.7" stroke="#888" stroke-width="0.8"/>
<text x="226.40" y="539.70" font-size="9.1" text-anchor="middle" textLength="17.81" lengthAdjust="spacingAndGlyphs" fill="#222" stroke="#222" stroke-width="0.18">0.52</text>
<line x1="252.90" y1="529.7" x2="252.90" y2="531.7" stroke="#888" stroke-width="0.8"/>
<text x="252.90" y="539.70" font-size="9.1" text-anchor="middle" textLength="17.81" lengthAdjust="spacingAndGlyphs" fill="#222" stroke="#222" stroke-width="0.18">0.50</text>
<line x1="279.30" y1="529.7" x2="279.30" y2="531.7" stroke="#888" stroke-width="0.8"/>
<text x="279.30" y="539.70" font-size="9.1" text-anchor="middle" textLength="17.81" lengthAdjust="spacingAndGlyphs" fill="#222" stroke="#222" stroke-width="0.18">0.48</text>
<line x1="305.70" y1="529.7" x2="305.70" y2="531.7" stroke="#888" stroke-width="0.8"/>
<text x="305.70" y="539.70" font-size="9.1" text-anchor="middle" textLength="17.81" lengthAdjust="spacingAndGlyphs" fill="#222" stroke="#222" stroke-width="0.18">0.46</text>
<text x="251.50" y="548.90" font-size="8.6" text-anchor="middle" fill="#222" stroke="#222" stroke-width="0.18">R</text>
<g clip-path="url(#c22)"><line x1="361.60" y1="418.00" x2="371.80" y2="418.00" stroke="#000" stroke-width="0.6"/><line x1="348.80" y1="436.40" x2="359.00" y2="436.40" stroke="#000" stroke-width="0.6"/><line x1="375.80" y1="435.40" x2="386.00" y2="435.40" stroke="#000" stroke-width="0.6"/><line x1="354.20" y1="446.20" x2="364.40" y2="446.20" stroke="#000" stroke-width="0.6"/><line x1="364.30" y1="446.80" x2="374.50" y2="446.80" stroke="#000" stroke-width="0.6"/><line x1="367.00" y1="452.70" x2="377.20" y2="452.70" stroke="#000" stroke-width="0.6"/><line x1="390.90" y1="460.90" x2="401.10" y2="460.90" stroke="#000" stroke-width="0.6"/><line x1="357.40" y1="466.00" x2="367.60" y2="466.00" stroke="#000" stroke-width="0.6"/><line x1="389.80" y1="465.90" x2="400.00" y2="465.90" stroke="#000" stroke-width="0.6"/><line x1="399.70" y1="482.60" x2="409.90" y2="482.60" stroke="#000" stroke-width="0.6"/><line x1="405.10" y1="484.70" x2="415.30" y2="484.70" stroke="#000" stroke-width="0.6"/><line x1="403.80" y1="491.80" x2="414.00" y2="491.80" stroke="#000" stroke-width="0.6"/><line x1="409.40" y1="495.40" x2="419.60" y2="495.40" stroke="#000" stroke-width="0.6"/><line x1="371.40" y1="493.70" x2="381.60" y2="493.70" stroke="#000" stroke-width="0.6"/><line x1="447.90" y1="428.40" x2="458.10" y2="428.40" stroke="#000" stroke-width="0.6"/><line x1="418.00" y1="454.10" x2="428.20" y2="454.10" stroke="#000" stroke-width="0.6"/><line x1="435.20" y1="452.20" x2="445.40" y2="452.20" stroke="#000" stroke-width="0.6"/><line x1="439.40" y1="452.80" x2="449.60" y2="452.80" stroke="#000" stroke-width="0.6"/><line x1="412.40" y1="470.20" x2="422.60" y2="470.20" stroke="#000" stroke-width="0.6"/><line x1="413.65" y1="471.90" x2="423.85" y2="471.90" stroke="#000" stroke-width="0.6"/><line x1="442.10" y1="472.80" x2="452.30" y2="472.80" stroke="#000" stroke-width="0.6"/><line x1="433.65" y1="477.20" x2="443.85" y2="477.20" stroke="#000" stroke-width="0.6"/><line x1="353.75" y1="453.3" x2="467.2" y2="472.3" stroke="#444" stroke-width="1.1"/><circle cx="366.70" cy="418.00" r="1.2" fill="#000"/><circle cx="353.90" cy="436.40" r="1.2" fill="#000"/><circle cx="380.90" cy="435.40" r="1.2" fill="#000"/><circle cx="359.30" cy="446.20" r="1.2" fill="#000"/><circle cx="369.40" cy="446.80" r="1.2" fill="#000"/><circle cx="372.10" cy="452.70" r="1.2" fill="#000"/><circle cx="396.00" cy="460.90" r="1.2" fill="#000"/><circle cx="362.50" cy="466.00" r="1.2" fill="#000"/><circle cx="394.90" cy="465.90" r="1.2" fill="#000"/><circle cx="404.80" cy="482.60" r="1.2" fill="#000"/><circle cx="410.20" cy="484.70" r="1.2" fill="#000"/><circle cx="408.90" cy="491.80" r="1.2" fill="#000"/><circle cx="414.50" cy="495.40" r="1.2" fill="#000"/><circle cx="376.50" cy="493.70" r="1.2" fill="#000"/><circle cx="453.00" cy="428.40" r="1.2" fill="#000"/><circle cx="423.10" cy="454.10" r="1.2" fill="#000"/><circle cx="440.30" cy="452.20" r="1.2" fill="#000"/><circle cx="444.50" cy="452.80" r="1.2" fill="#000"/><circle cx="417.50" cy="470.20" r="1.2" fill="#000"/><circle cx="418.75" cy="471.90" r="1.2" fill="#000"/><circle cx="447.20" cy="472.80" r="1.2" fill="#000"/><circle cx="438.75" cy="477.20" r="1.2" fill="#000"/></g>
<clipPath id="c22"><rect x="343.0" y="383.6" width="129.89999999999998" height="146.10000000000002"/></clipPath>
<rect x="422.80" y="387.00" width="47.2" height="28.5" fill="#fff" stroke="#777" stroke-width="0.8"/>
<text x="425.40" y="395.60" font-size="7.8" textLength="40.86" lengthAdjust="spacingAndGlyphs" fill="#222" stroke="#222" stroke-width="0.18">JD 2458823</text>
<text x="425.40" y="403.40" font-size="7.8" textLength="26.86" lengthAdjust="spacingAndGlyphs" fill="#222" stroke="#222" stroke-width="0.18">r=-0.24</text>
<text x="425.40" y="411.20" font-size="7.8" textLength="25.89" lengthAdjust="spacingAndGlyphs" fill="#222" stroke="#222" stroke-width="0.18">p=0.28</text>
<rect x="343.0" y="383.6" width="129.90" height="146.10" fill="none" stroke="#a6a6a6" stroke-width="1"/>
<line x1="341.0" y1="400.70" x2="343.0" y2="400.70" stroke="#888" stroke-width="0.8"/>
<text x="339.90" y="403.75" font-size="9.1" text-anchor="end" textLength="17.81" lengthAdjust="spacingAndGlyphs" fill="#222" stroke="#222" stroke-width="0.18">2.60</text>
<line x1="341.0" y1="417.97" x2="343.0" y2="417.97" stroke="#888" stroke-width="0.8"/>
<text x="339.90" y="421.02" font-size="9.1" text-anchor="end" textLength="17.81" lengthAdjust="spacingAndGlyphs" fill="#222" stroke="#222" stroke-width="0.18">2.65</text>
<line x1="341.0" y1="435.24" x2="343.0" y2="435.24" stroke="#888" stroke-width="0.8"/>
<text x="339.90" y="438.29" font-size="9.1" text-anchor="end" textLength="17.81" lengthAdjust="spacingAndGlyphs" fill="#222" stroke="#222" stroke-width="0.18">2.70</text>
<line x1="341.0" y1="452.51" x2="343.0" y2="452.51" stroke="#888" stroke-width="0.8"/>
<text x="339.90" y="455.56" font-size="9.1" text-anchor="end" textLength="17.81" lengthAdjust="spacingAndGlyphs" fill="#222" stroke="#222" stroke-width="0.18">2.75</text>
<line x1="341.0" y1="469.78" x2="343.0" y2="469.78" stroke="#888" stroke-width="0.8"/>
<text x="339.90" y="472.83" font-size="9.1" text-anchor="end" textLength="17.81" lengthAdjust="spacingAndGlyphs" fill="#222" stroke="#222" stroke-width="0.18">2.80</text>
<line x1="341.0" y1="487.05" x2="343.0" y2="487.05" stroke="#888" stroke-width="0.8"/>
<text x="339.90" y="490.10" font-size="9.1" text-anchor="end" textLength="17.81" lengthAdjust="spacingAndGlyphs" fill="#222" stroke="#222" stroke-width="0.18">2.85</text>
<line x1="341.0" y1="504.32" x2="343.0" y2="504.32" stroke="#888" stroke-width="0.8"/>
<text x="339.90" y="507.37" font-size="9.1" text-anchor="end" textLength="17.81" lengthAdjust="spacingAndGlyphs" fill="#222" stroke="#222" stroke-width="0.18">2.90</text>
<line x1="341.0" y1="521.59" x2="343.0" y2="521.59" stroke="#888" stroke-width="0.8"/>
<text x="339.90" y="524.64" font-size="9.1" text-anchor="end" textLength="17.81" lengthAdjust="spacingAndGlyphs" fill="#222" stroke="#222" stroke-width="0.18">2.95</text>
<line x1="346.50" y1="529.7" x2="346.50" y2="531.7" stroke="#888" stroke-width="0.8"/>
<text x="346.50" y="539.70" font-size="9.1" text-anchor="middle" textLength="17.81" lengthAdjust="spacingAndGlyphs" fill="#222" stroke="#222" stroke-width="0.18">0.58</text>
<line x1="375.10" y1="529.7" x2="375.10" y2="531.7" stroke="#888" stroke-width="0.8"/>
<text x="375.10" y="539.70" font-size="9.1" text-anchor="middle" textLength="17.81" lengthAdjust="spacingAndGlyphs" fill="#222" stroke="#222" stroke-width="0.18">0.56</text>
<line x1="403.70" y1="529.7" x2="403.70" y2="531.7" stroke="#888" stroke-width="0.8"/>
<text x="403.70" y="539.70" font-size="9.1" text-anchor="middle" textLength="17.81" lengthAdjust="spacingAndGlyphs" fill="#222" stroke="#222" stroke-width="0.18">0.54</text>
<line x1="432.30" y1="529.7" x2="432.30" y2="531.7" stroke="#888" stroke-width="0.8"/>
<text x="432.30" y="539.70" font-size="9.1" text-anchor="middle" textLength="17.81" lengthAdjust="spacingAndGlyphs" fill="#222" stroke="#222" stroke-width="0.18">0.52</text>
<line x1="460.90" y1="529.7" x2="460.90" y2="531.7" stroke="#888" stroke-width="0.8"/>
<text x="460.90" y="539.70" font-size="9.1" text-anchor="middle" textLength="17.81" lengthAdjust="spacingAndGlyphs" fill="#222" stroke="#222" stroke-width="0.18">0.50</text>
<text x="407.95" y="548.90" font-size="8.6" text-anchor="middle" fill="#222" stroke="#222" stroke-width="0.18">V</text>
<g clip-path="url(#c30)"><line x1="50.40" y1="612.70" x2="86.10" y2="612.70" stroke="#000" stroke-width="0.6"/><line x1="77.00" y1="626.20" x2="105.80" y2="626.20" stroke="#000" stroke-width="0.6"/><line x1="44.10" y1="651.60" x2="80.00" y2="651.60" stroke="#000" stroke-width="0.6"/><line x1="36.30" y1="655.70" x2="72.30" y2="655.70" stroke="#000" stroke-width="0.6"/><line x1="103.00" y1="606.80" x2="131.50" y2="606.80" stroke="#000" stroke-width="0.6"/><line x1="117.60" y1="609.60" x2="142.40" y2="609.60" stroke="#000" stroke-width="0.6"/><line x1="85.00" y1="624.70" x2="116.30" y2="624.70" stroke="#000" stroke-width="0.6"/><line x1="115.00" y1="634.20" x2="139.20" y2="634.20" stroke="#000" stroke-width="0.6"/><line x1="114.20" y1="636.70" x2="140.00" y2="636.70" stroke="#000" stroke-width="0.6"/><line x1="100.00" y1="636.70" x2="125.00" y2="636.70" stroke="#000" stroke-width="0.6"/><line x1="92.50" y1="637.50" x2="120.80" y2="637.50" stroke="#000" stroke-width="0.6"/><line x1="120.80" y1="639.70" x2="145.30" y2="639.70" stroke="#000" stroke-width="0.6"/><line x1="124.20" y1="644.00" x2="148.30" y2="644.00" stroke="#000" stroke-width="0.6"/><line x1="92.00" y1="654.20" x2="124.70" y2="654.20" stroke="#000" stroke-width="0.6"/><line x1="126.20" y1="655.30" x2="152.50" y2="655.30" stroke="#000" stroke-width="0.6"/><line x1="106.70" y1="659.20" x2="138.00" y2="659.20" stroke="#000" stroke-width="0.6"/><line x1="86.70" y1="660.30" x2="120.00" y2="660.30" stroke="#000" stroke-width="0.6"/><line x1="86.00" y1="661.70" x2="116.00" y2="661.70" stroke="#000" stroke-width="0.6"/><line x1="101.70" y1="662.50" x2="129.20" y2="662.50" stroke="#000" stroke-width="0.6"/><line x1="124.20" y1="678.50" x2="148.30" y2="678.50" stroke="#000" stroke-width="0.6"/><line x1="106.30" y1="690.50" x2="135.30" y2="690.50" stroke="#000" stroke-width="0.6"/><line x1="46" y1="639.2" x2="155" y2="645.5" stroke="#444" stroke-width="1.1"/><circle cx="68.20" cy="612.70" r="1.2" fill="#000"/><circle cx="91.40" cy="626.20" r="1.2" fill="#000"/><circle cx="62.10" cy="651.60" r="1.2" fill="#000"/><circle cx="54.40" cy="655.70" r="1.2" fill="#000"/><circle cx="117.60" cy="606.80" r="1.2" fill="#000"/><circle cx="130.00" cy="609.60" r="1.2" fill="#000"/><circle cx="100.50" cy="624.70" r="1.2" fill="#000"/><circle cx="127.20" cy="634.20" r="1.2" fill="#000"/><circle cx="127.20" cy="636.70" r="1.2" fill="#000"/><circle cx="113.00" cy="636.70" r="1.2" fill="#000"/><circle cx="106.70" cy="637.50" r="1.2" fill="#000"/><circle cx="133.00" cy="639.70" r="1.2" fill="#000"/><circle cx="136.20" cy="644.00" r="1.2" fill="#000"/><circle cx="108.30" cy="654.20" r="1.2" fill="#000"/><circle cx="139.20" cy="655.30" r="1.2" fill="#000"/><circle cx="122.20" cy="659.20" r="1.2" fill="#000"/><circle cx="103.80" cy="660.30" r="1.2" fill="#000"/><circle cx="100.50" cy="661.70" r="1.2" fill="#000"/><circle cx="114.50" cy="662.50" r="1.2" fill="#000"/><circle cx="136.20" cy="678.50" r="1.2" fill="#000"/><circle cx="120.80" cy="690.50" r="1.2" fill="#000"/></g>
<clipPath id="c30"><rect x="30.5" y="575.0" width="130.0" height="146.29999999999995"/></clipPath>
<rect x="110.40" y="578.30" width="47.2" height="28.5" fill="#fff" stroke="#777" stroke-width="0.8"/>
<text x="113.00" y="586.90" font-size="7.8" textLength="40.86" lengthAdjust="spacingAndGlyphs" fill="#222" stroke="#222" stroke-width="0.18">JD 2458824</text>
<text x="113.00" y="594.70" font-size="7.8" textLength="26.86" lengthAdjust="spacingAndGlyphs" fill="#222" stroke="#222" stroke-width="0.18">r=-0.06</text>
<text x="113.00" y="602.50" font-size="7.8" textLength="25.89" lengthAdjust="spacingAndGlyphs" fill="#222" stroke="#222" stroke-width="0.18">p=0.80</text>
<rect x="30.5" y="575.0" width="130.00" height="146.30" fill="none" stroke="#a6a6a6" stroke-width="1"/>
<line x1="28.5" y1="602.40" x2="30.5" y2="602.40" stroke="#888" stroke-width="0.8"/>
<text x="27.40" y="605.45" font-size="9.1" text-anchor="end" textLength="17.81" lengthAdjust="spacingAndGlyphs" fill="#222" stroke="#222" stroke-width="0.18">2.90</text>
<line x1="28.5" y1="633.37" x2="30.5" y2="633.37" stroke="#888" stroke-width="0.8"/>
<text x="27.40" y="636.42" font-size="9.1" text-anchor="end" textLength="17.81" lengthAdjust="spacingAndGlyphs" fill="#222" stroke="#222" stroke-width="0.18">3.00</text>
<line x1="28.5" y1="664.34" x2="30.5" y2="664.34" stroke="#888" stroke-width="0.8"/>
<text x="27.40" y="667.39" font-size="9.1" text-anchor="end" textLength="17.81" lengthAdjust="spacingAndGlyphs" fill="#222" stroke="#222" stroke-width="0.18">3.10</text>
<line x1="28.5" y1="695.31" x2="30.5" y2="695.31" stroke="#888" stroke-width="0.8"/>
<text x="27.40" y="698.36" font-size="9.1" text-anchor="end" textLength="17.81" lengthAdjust="spacingAndGlyphs" fill="#222" stroke="#222" stroke-width="0.18">3.20</text>
<line x1="48.10" y1="721.3" x2="48.10" y2="723.3" stroke="#888" stroke-width="0.8"/>
<text x="48.10" y="731.30" font-size="9.1" text-anchor="middle" textLength="17.81" lengthAdjust="spacingAndGlyphs" fill="#222" stroke="#222" stroke-width="0.18">0.56</text>
<line x1="78.90" y1="721.3" x2="78.90" y2="723.3" stroke="#888" stroke-width="0.8"/>
<text x="78.90" y="731.30" font-size="9.1" text-anchor="middle" textLength="17.81" lengthAdjust="spacingAndGlyphs" fill="#222" stroke="#222" stroke-width="0.18">0.54</text>
<line x1="109.70" y1="721.3" x2="109.70" y2="723.3" stroke="#888" stroke-width="0.8"/>
<text x="109.70" y="731.30" font-size="9.1" text-anchor="middle" textLength="17.81" lengthAdjust="spacingAndGlyphs" fill="#222" stroke="#222" stroke-width="0.18">0.52</text>
<line x1="140.50" y1="721.3" x2="140.50" y2="723.3" stroke="#888" stroke-width="0.8"/>
<text x="140.50" y="731.30" font-size="9.1" text-anchor="middle" textLength="17.81" lengthAdjust="spacingAndGlyphs" fill="#222" stroke="#222" stroke-width="0.18">0.50</text>
<text x="95.50" y="740.50" font-size="8.6" text-anchor="middle" fill="#222" stroke="#222" stroke-width="0.18">B</text>
<text transform="translate(7.2,648.65) rotate(-90)" x="0" y="0" font-size="8.6" text-anchor="middle" textLength="37.67" lengthAdjust="spacingAndGlyphs" fill="#222" stroke="#222" stroke-width="0.18">FWHM (″)</text>
<g clip-path="url(#c31)"><line x1="217.20" y1="607.50" x2="231.20" y2="607.50" stroke="#000" stroke-width="0.6"/><line x1="211.20" y1="610.80" x2="225.20" y2="610.80" stroke="#000" stroke-width="0.6"/><line x1="234.80" y1="633.70" x2="248.80" y2="633.70" stroke="#000" stroke-width="0.6"/><line x1="195.30" y1="653.20" x2="209.30" y2="653.20" stroke="#000" stroke-width="0.6"/><line x1="260.70" y1="607.50" x2="274.70" y2="607.50" stroke="#000" stroke-width="0.6"/><line x1="268.50" y1="610.80" x2="282.50" y2="610.80" stroke="#000" stroke-width="0.6"/><line x1="264.60" y1="614.10" x2="278.60" y2="614.10" stroke="#000" stroke-width="0.6"/><line x1="248.60" y1="617.30" x2="262.60" y2="617.30" stroke="#000" stroke-width="0.6"/><line x1="260.70" y1="620.50" x2="274.70" y2="620.50" stroke="#000" stroke-width="0.6"/><line x1="285.90" y1="620.50" x2="296.60" y2="620.50" stroke="#000" stroke-width="0.6"/><line x1="252.50" y1="627.20" x2="266.50" y2="627.20" stroke="#000" stroke-width="0.6"/><line x1="258.60" y1="630.30" x2="272.60" y2="630.30" stroke="#000" stroke-width="0.6"/><line x1="260.70" y1="633.60" x2="274.70" y2="633.60" stroke="#000" stroke-width="0.6"/><line x1="264.60" y1="636.90" x2="278.60" y2="636.90" stroke="#000" stroke-width="0.6"/><line x1="284.25" y1="640.30" x2="298.25" y2="640.30" stroke="#000" stroke-width="0.6"/><line x1="268.50" y1="650.00" x2="282.50" y2="650.00" stroke="#000" stroke-width="0.6"/><line x1="250.80" y1="653.30" x2="264.80" y2="653.30" stroke="#000" stroke-width="0.6"/><line x1="246.75" y1="669.50" x2="260.75" y2="669.50" stroke="#000" stroke-width="0.6"/><line x1="252.50" y1="669.50" x2="266.50" y2="669.50" stroke="#000" stroke-width="0.6"/><line x1="252.50" y1="679.40" x2="266.50" y2="679.40" stroke="#000" stroke-width="0.6"/><line x1="266.40" y1="685.60" x2="280.40" y2="685.60" stroke="#000" stroke-width="0.6"/><line x1="254.70" y1="689.10" x2="268.70" y2="689.10" stroke="#000" stroke-width="0.6"/><line x1="192.3" y1="635.2" x2="311.3" y2="642.2" stroke="#444" stroke-width="1.1"/><circle cx="224.20" cy="607.50" r="1.2" fill="#000"/><circle cx="218.20" cy="610.80" r="1.2" fill="#000"/><circle cx="241.80" cy="633.70" r="1.2" fill="#000"/><circle cx="202.30" cy="653.20" r="1.2" fill="#000"/><circle cx="267.70" cy="607.50" r="1.2" fill="#000"/><circle cx="275.50" cy="610.80" r="1.2" fill="#000"/><circle cx="271.60" cy="614.10" r="1.2" fill="#000"/><circle cx="255.60" cy="617.30" r="1.2" fill="#000"/><circle cx="267.70" cy="620.50" r="1.2" fill="#000"/><circle cx="291.25" cy="620.50" r="1.2" fill="#000"/><circle cx="259.50" cy="627.20" r="1.2" fill="#000"/><circle cx="265.60" cy="630.30" r="1.2" fill="#000"/><circle cx="267.70" cy="633.60" r="1.2" fill="#000"/><circle cx="271.60" cy="636.90" r="1.2" fill="#000"/><circle cx="291.25" cy="640.30" r="1.2" fill="#000"/><circle cx="275.50" cy="650.00" r="1.2" fill="#000"/><circle cx="257.80" cy="653.30" r="1.2" fill="#000"/><circle cx="253.75" cy="669.50" r="1.2" fill="#000"/><circle cx="259.50" cy="669.50" r="1.2" fill="#000"/><circle cx="259.50" cy="679.40" r="1.2" fill="#000"/><circle cx="273.40" cy="685.60" r="1.2" fill="#000"/><circle cx="261.70" cy="689.10" r="1.2" fill="#000"/></g>
<clipPath id="c31"><rect x="186.5" y="575.0" width="130.0" height="146.29999999999995"/></clipPath>
<rect x="266.40" y="578.30" width="47.2" height="28.5" fill="#fff" stroke="#777" stroke-width="0.8"/>
<text x="269.00" y="586.90" font-size="7.8" textLength="40.86" lengthAdjust="spacingAndGlyphs" fill="#222" stroke="#222" stroke-width="0.18">JD 2458824</text>
<text x="269.00" y="594.70" font-size="7.8" textLength="26.86" lengthAdjust="spacingAndGlyphs" fill="#222" stroke="#222" stroke-width="0.18">r=-0.05</text>
<text x="269.00" y="602.50" font-size="7.8" textLength="25.89" lengthAdjust="spacingAndGlyphs" fill="#222" stroke="#222" stroke-width="0.18">p=0.83</text>
<rect x="186.5" y="575.0" width="130.00" height="146.30" fill="none" stroke="#a6a6a6" stroke-width="1"/>
<line x1="184.5" y1="597.80" x2="186.5" y2="597.80" stroke="#888" stroke-width="0.8"/>
<text x="183.40" y="600.85" font-size="9.1" text-anchor="end" textLength="17.81" lengthAdjust="spacingAndGlyphs" fill="#222" stroke="#222" stroke-width="0.18">2.20</text>
<line x1="184.5" y1="630.43" x2="186.5" y2="630.43" stroke="#888" stroke-width="0.8"/>
<text x="183.40" y="633.48" font-size="9.1" text-anchor="end" textLength="17.81" lengthAdjust="spacingAndGlyphs" fill="#222" stroke="#222" stroke-width="0.18">2.30</text>
<line x1="184.5" y1="663.06" x2="186.5" y2="663.06" stroke="#888" stroke-width="0.8"/>
<text x="183.40" y="666.11" font-size="9.1" text-anchor="end" textLength="17.81" lengthAdjust="spacingAndGlyphs" fill="#222" stroke="#222" stroke-width="0.18">2.40</text>
<line x1="184.5" y1="695.69" x2="186.5" y2="695.69" stroke="#888" stroke-width="0.8"/>
<text x="183.40" y="698.74" font-size="9.1" text-anchor="end" textLength="17.81" lengthAdjust="spacingAndGlyphs" fill="#222" stroke="#222" stroke-width="0.18">2.50</text>
<line x1="186.60" y1="721.3" x2="186.60" y2="723.3" stroke="#888" stroke-width="0.8"/>
<text x="186.60" y="731.30" font-size="9.1" text-anchor="middle" textLength="17.81" lengthAdjust="spacingAndGlyphs" fill="#222" stroke="#222" stroke-width="0.18">0.60</text>
<line x1="226.00" y1="721.3" x2="226.00" y2="723.3" stroke="#888" stroke-width="0.8"/>
<text x="226.00" y="731.30" font-size="9.1" text-anchor="middle" textLength="17.81" lengthAdjust="spacingAndGlyphs" fill="#222" stroke="#222" stroke-width="0.18">0.58</text>
<line x1="265.40" y1="721.3" x2="265.40" y2="723.3" stroke="#888" stroke-width="0.8"/>
<text x="265.40" y="731.30" font-size="9.1" text-anchor="middle" textLength="17.81" lengthAdjust="spacingAndGlyphs" fill="#222" stroke="#222" stroke-width="0.18">0.56</text>
<line x1="304.80" y1="721.3" x2="304.80" y2="723.3" stroke="#888" stroke-width="0.8"/>
<text x="304.80" y="731.30" font-size="9.1" text-anchor="middle" textLength="17.81" lengthAdjust="spacingAndGlyphs" fill="#222" stroke="#222" stroke-width="0.18">0.54</text>
<text x="251.50" y="740.50" font-size="8.6" text-anchor="middle" fill="#222" stroke="#222" stroke-width="0.18">R</text>
<g clip-path="url(#c32)"><line x1="395.30" y1="614.50" x2="412.80" y2="614.50" stroke="#000" stroke-width="0.6"/><line x1="379.50" y1="625.80" x2="397.00" y2="625.80" stroke="#000" stroke-width="0.6"/><line x1="408.50" y1="628.60" x2="427.00" y2="628.60" stroke="#000" stroke-width="0.6"/><line x1="369.20" y1="644.70" x2="390.80" y2="644.70" stroke="#000" stroke-width="0.6"/><line x1="351.30" y1="649.50" x2="373.30" y2="649.50" stroke="#000" stroke-width="0.6"/><line x1="366.90" y1="648.70" x2="389.70" y2="648.70" stroke="#000" stroke-width="0.6"/><line x1="391.00" y1="643.20" x2="413.30" y2="643.20" stroke="#000" stroke-width="0.6"/><line x1="400.50" y1="643.20" x2="423.50" y2="643.20" stroke="#000" stroke-width="0.6"/><line x1="405.30" y1="646.40" x2="422.50" y2="646.40" stroke="#000" stroke-width="0.6"/><line x1="385.50" y1="654.00" x2="402.80" y2="654.00" stroke="#000" stroke-width="0.6"/><line x1="406.30" y1="652.50" x2="425.30" y2="652.50" stroke="#000" stroke-width="0.6"/><line x1="415.60" y1="654.00" x2="432.30" y2="654.00" stroke="#000" stroke-width="0.6"/><line x1="365.00" y1="659.50" x2="387.50" y2="659.50" stroke="#000" stroke-width="0.6"/><line x1="393.30" y1="676.40" x2="410.80" y2="676.40" stroke="#000" stroke-width="0.6"/><line x1="417.20" y1="609.50" x2="434.40" y2="609.50" stroke="#000" stroke-width="0.6"/><line x1="435.20" y1="615.20" x2="451.90" y2="615.20" stroke="#000" stroke-width="0.6"/><line x1="437.00" y1="623.60" x2="453.90" y2="623.60" stroke="#000" stroke-width="0.6"/><line x1="419.00" y1="628.10" x2="436.40" y2="628.10" stroke="#000" stroke-width="0.6"/><line x1="417.20" y1="635.60" x2="434.40" y2="635.60" stroke="#000" stroke-width="0.6"/><line x1="435.20" y1="648.90" x2="451.90" y2="648.90" stroke="#000" stroke-width="0.6"/><line x1="438.75" y1="652.00" x2="455.90" y2="652.00" stroke="#000" stroke-width="0.6"/><line x1="406.60" y1="686.90" x2="429.20" y2="686.90" stroke="#000" stroke-width="0.6"/><line x1="348.5" y1="655.8" x2="467.5" y2="631" stroke="#444" stroke-width="1.1"/><circle cx="403.80" cy="614.50" r="1.2" fill="#000"/><circle cx="388.30" cy="625.80" r="1.2" fill="#000"/><circle cx="417.80" cy="628.60" r="1.2" fill="#000"/><circle cx="380.30" cy="644.70" r="1.2" fill="#000"/><circle cx="362.50" cy="649.50" r="1.2" fill="#000"/><circle cx="378.30" cy="648.70" r="1.2" fill="#000"/><circle cx="402.20" cy="643.20" r="1.2" fill="#000"/><circle cx="412.00" cy="643.20" r="1.2" fill="#000"/><circle cx="413.80" cy="646.40" r="1.2" fill="#000"/><circle cx="393.80" cy="654.00" r="1.2" fill="#000"/><circle cx="415.80" cy="652.50" r="1.2" fill="#000"/><circle cx="423.70" cy="654.00" r="1.2" fill="#000"/><circle cx="376.30" cy="659.50" r="1.2" fill="#000"/><circle cx="402.20" cy="676.40" r="1.2" fill="#000"/><circle cx="425.80" cy="609.50" r="1.2" fill="#000"/><circle cx="443.40" cy="615.20" r="1.2" fill="#000"/><circle cx="445.30" cy="623.60" r="1.2" fill="#000"/><circle cx="427.70" cy="628.10" r="1.2" fill="#000"/><circle cx="425.80" cy="635.60" r="1.2" fill="#000"/><circle cx="443.40" cy="648.90" r="1.2" fill="#000"/><circle cx="447.30" cy="652.00" r="1.2" fill="#000"/><circle cx="417.70" cy="686.90" r="1.2" fill="#000"/></g>
<clipPath id="c32"><rect x="343.0" y="575.0" width="129.89999999999998" height="146.29999999999995"/></clipPath>
<rect x="422.80" y="578.30" width="47.2" height="28.5" fill="#fff" stroke="#777" stroke-width="0.8"/>
<text x="425.40" y="586.90" font-size="7.8" textLength="40.86" lengthAdjust="spacingAndGlyphs" fill="#222" stroke="#222" stroke-width="0.18">JD 2458824</text>
<text x="425.40" y="594.70" font-size="7.8" textLength="24.33" lengthAdjust="spacingAndGlyphs" fill="#222" stroke="#222" stroke-width="0.18">r=0.26</text>
<text x="425.40" y="602.50" font-size="7.8" textLength="25.89" lengthAdjust="spacingAndGlyphs" fill="#222" stroke="#222" stroke-width="0.18">p=0.24</text>
<rect x="343.0" y="575.0" width="129.90" height="146.30" fill="none" stroke="#a6a6a6" stroke-width="1"/>
<line x1="341.0" y1="589.60" x2="343.0" y2="589.60" stroke="#888" stroke-width="0.8"/>
<text x="339.90" y="592.65" font-size="9.1" text-anchor="end" textLength="17.81" lengthAdjust="spacingAndGlyphs" fill="#222" stroke="#222" stroke-width="0.18">2.85</text>
<line x1="341.0" y1="606.87" x2="343.0" y2="606.87" stroke="#888" stroke-width="0.8"/>
<text x="339.90" y="609.92" font-size="9.1" text-anchor="end" textLength="17.81" lengthAdjust="spacingAndGlyphs" fill="#222" stroke="#222" stroke-width="0.18">2.90</text>
<line x1="341.0" y1="624.14" x2="343.0" y2="624.14" stroke="#888" stroke-width="0.8"/>
<text x="339.90" y="627.19" font-size="9.1" text-anchor="end" textLength="17.81" lengthAdjust="spacingAndGlyphs" fill="#222" stroke="#222" stroke-width="0.18">2.95</text>
<line x1="341.0" y1="641.41" x2="343.0" y2="641.41" stroke="#888" stroke-width="0.8"/>
<text x="339.90" y="644.46" font-size="9.1" text-anchor="end" textLength="17.81" lengthAdjust="spacingAndGlyphs" fill="#222" stroke="#222" stroke-width="0.18">3.00</text>
<line x1="341.0" y1="658.68" x2="343.0" y2="658.68" stroke="#888" stroke-width="0.8"/>
<text x="339.90" y="661.73" font-size="9.1" text-anchor="end" textLength="17.81" lengthAdjust="spacingAndGlyphs" fill="#222" stroke="#222" stroke-width="0.18">3.05</text>
<line x1="341.0" y1="675.95" x2="343.0" y2="675.95" stroke="#888" stroke-width="0.8"/>
<text x="339.90" y="679.00" font-size="9.1" text-anchor="end" textLength="17.81" lengthAdjust="spacingAndGlyphs" fill="#222" stroke="#222" stroke-width="0.18">3.10</text>
<line x1="341.0" y1="693.22" x2="343.0" y2="693.22" stroke="#888" stroke-width="0.8"/>
<text x="339.90" y="696.27" font-size="9.1" text-anchor="end" textLength="17.81" lengthAdjust="spacingAndGlyphs" fill="#222" stroke="#222" stroke-width="0.18">3.15</text>
<line x1="341.0" y1="710.49" x2="343.0" y2="710.49" stroke="#888" stroke-width="0.8"/>
<text x="339.90" y="713.54" font-size="9.1" text-anchor="end" textLength="17.81" lengthAdjust="spacingAndGlyphs" fill="#222" stroke="#222" stroke-width="0.18">3.20</text>
<line x1="346.20" y1="721.3" x2="346.20" y2="723.3" stroke="#888" stroke-width="0.8"/>
<text x="346.20" y="731.30" font-size="9.1" text-anchor="middle" textLength="17.81" lengthAdjust="spacingAndGlyphs" fill="#222" stroke="#222" stroke-width="0.18">0.64</text>
<line x1="385.60" y1="721.3" x2="385.60" y2="723.3" stroke="#888" stroke-width="0.8"/>
<text x="385.60" y="731.30" font-size="9.1" text-anchor="middle" textLength="17.81" lengthAdjust="spacingAndGlyphs" fill="#222" stroke="#222" stroke-width="0.18">0.62</text>
<line x1="425.00" y1="721.3" x2="425.00" y2="723.3" stroke="#888" stroke-width="0.8"/>
<text x="425.00" y="731.30" font-size="9.1" text-anchor="middle" textLength="17.81" lengthAdjust="spacingAndGlyphs" fill="#222" stroke="#222" stroke-width="0.18">0.60</text>
<line x1="464.40" y1="721.3" x2="464.40" y2="723.3" stroke="#888" stroke-width="0.8"/>
<text x="464.40" y="731.30" font-size="9.1" text-anchor="middle" textLength="17.81" lengthAdjust="spacingAndGlyphs" fill="#222" stroke="#222" stroke-width="0.18">0.58</text>
<text x="407.95" y="740.50" font-size="8.6" text-anchor="middle" fill="#222" stroke="#222" stroke-width="0.18">V</text>
</svg></body></html>
